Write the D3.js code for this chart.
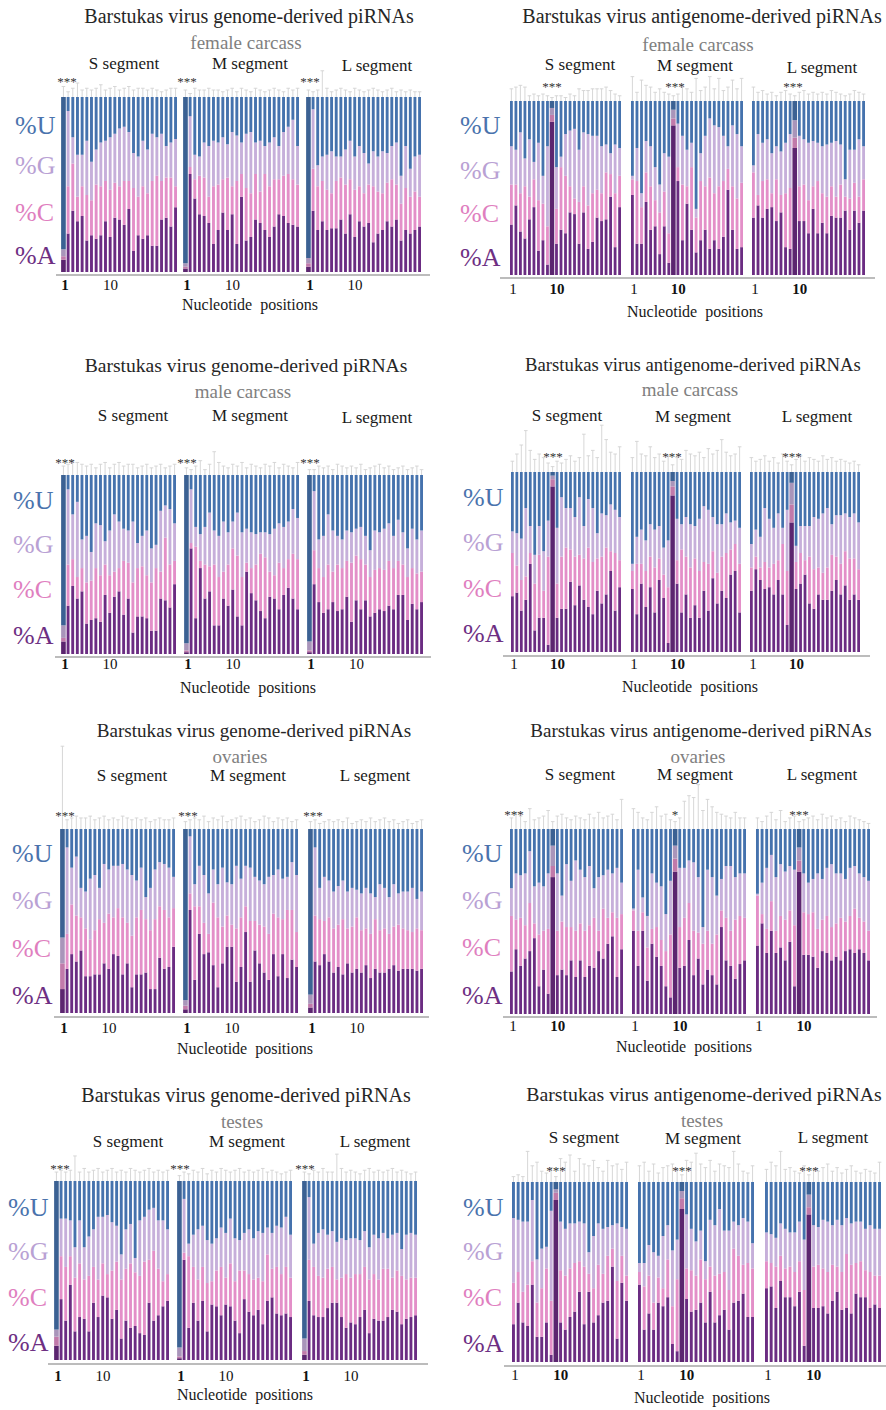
<!DOCTYPE html>
<html>
<head>
<meta charset="utf-8">
<script src="https://cdn.jsdelivr.net/npm/d3@7"></script>
<style>
  body { margin: 0; background: #fff; }
  svg text { font-family: "Liberation Serif", "Times New Roman", serif; }
</style>
</head>
<body>
<svg width="886" height="1410"></svg>
<script>
// nucleotide positions 1..25, three segments per panel
const positions = d3.range(1, 26);
const bases = ["A", "C", "G", "U"];
const segmentNames = ["S segment", "M segment", "L segment"];

// % per base, [S, M, L]; U is the remainder to 100
const genomeFemaleA = [
  [7,22,35,29,32,18,21,19,21,29,20,31,30,27,36,12,21,19,21,15,15,30,31,26,37],
  [2,56,42,33,32,28,16,24,34,24,33,16,43,18,20,30,28,24,20,26,33,32,28,27,26],
  [3,35,24,29,24,25,25,30,22,33,20,29,26,28,17,22,24,29,26,30,18,24,22,24,26]];
const genomeFemaleC = [
  [2,27,27,14,17,26,20,31,28,23,27,20,19,25,16,36,22,30,24,37,40,22,23,28,12],
  [1,4,11,22,22,15,33,26,19,30,16,36,13,30,25,26,18,32,29,27,20,23,28,26,24],
  [2,24,25,23,23,20,27,24,28,20,27,20,19,22,32,24,21,22,27,20,21,24,21,22,17]];
const genomeFemaleG = [
  [4,43,15,24,18,31,22,20,25,23,30,28,33,31,28,20,23,26,25,27,22,27,18,20,27],
  [2,29,14,11,20,29,26,24,24,19,31,26,18,31,35,18,29,16,25,24,19,25,27,34,22],
  [3,34,12,14,20,24,14,12,20,22,19,23,23,12,20,20,24,17,19,24,16,24,16,20,24]];
const genomeFemaleErr = [
  [6,3,5,8,4,5,4,5,7,4,5,6,4,5,6,4,5,5,4,5,4,3,4,5,5],
  [4,2,5,4,4,5,4,4,3,4,5,3,5,4,3,5,4,3,4,5,4,3,5,4,5],
  [4,3,4,15,5,3,4,5,4,3,5,4,3,4,5,4,3,4,5,3,4,3,4,3,3]];

const genomeMaleA = [
  [7,27,38,31,35,17,19,20,18,33,23,32,35,22,31,12,21,21,20,13,13,31,30,26,39],
  [1,59,20,48,31,35,16,16,31,27,36,21,16,46,34,30,24,20,32,31,25,33,37,31,25],
  [1,39,29,23,25,29,24,25,32,18,30,25,30,21,23,25,24,27,25,33,33,19,28,25,29]];
const genomeMaleC = [
  [2,23,15,12,13,23,22,28,26,17,21,14,13,30,20,28,27,28,24,27,35,15,35,24,13],
  [1,3,40,4,19,14,34,27,15,23,23,34,27,5,14,20,32,34,14,13,26,15,16,25,28],
  [1,19,19,20,25,17,26,23,20,33,25,28,20,22,24,23,23,25,23,19,17,24,20,20,17]];
const genomeMaleG = [
  [7,42,25,42,16,26,16,25,28,13,25,32,26,18,18,34,14,17,25,19,13,34,18,31,21],
  [4,30,11,15,21,30,19,23,28,18,15,24,25,19,20,17,12,14,21,26,22,23,21,25,23],
  [5,33,16,23,28,23,16,16,17,17,15,18,16,15,22,20,23,21,18,23,18,16,22,19,23]];
const genomeMaleErr = [
  [5,6,8,7,6,5,6,4,6,7,4,6,7,5,6,6,4,5,6,4,5,6,4,5,6],
  [4,3,5,8,3,6,13,7,5,4,6,5,7,4,6,5,4,6,5,7,4,6,5,4,7],
  [3,3,5,4,5,3,6,5,4,5,4,6,3,4,5,6,4,5,3,4,5,3,4,5,3]];

const genomeOvariesA = [
  [13,24,32,28,34,20,20,21,21,27,24,32,31,21,27,14,21,21,22,13,13,30,24,25,36],
  [2,56,18,43,32,33,26,14,27,36,36,17,25,44,17,34,27,22,18,32,20,32,19,29,25],
  [3,28,26,32,28,22,25,21,27,22,24,22,26,19,24,22,22,24,26,23,24,24,24,23,24]];
const genomeOvariesC = [
  [14,19,27,25,18,26,20,24,30,22,30,20,26,31,22,28,31,35,29,32,38,28,32,27,21],
  [2,9,40,15,17,10,34,38,20,17,12,29,27,14,33,16,21,25,25,22,32,19,37,27,19],
  [2,25,25,18,24,24,23,30,19,25,28,23,20,24,27,23,24,19,21,25,22,21,20,23,21]];
const genomeOvariesG = [
  [14,47,20,32,16,20,33,30,17,32,24,28,23,29,29,33,20,23,12,23,27,24,25,27,17],
  [3,31,12,22,26,22,18,18,32,18,22,34,21,22,29,24,24,23,31,21,26,22,18,26,31],
  [5,37,17,24,20,20,21,21,20,21,15,20,22,22,12,25,22,20,23,17,20,21,24,16,21]];
const genomeOvariesErr = [
  [45,5,6,7,6,6,7,5,6,7,5,6,5,7,6,5,6,5,6,4,5,6,5,5,6],
  [4,5,6,5,7,4,6,5,7,4,5,6,7,5,6,4,5,7,6,4,6,5,6,4,5],
  [4,5,3,4,5,4,5,4,6,3,4,5,4,6,4,5,6,4,5,3,4,5,3,4,5]];

const genomeTestesA = [
  [8,34,22,42,16,24,23,16,32,24,36,35,23,28,12,22,18,19,15,14,32,22,25,30,33],
  [1,56,18,32,22,33,16,31,30,25,31,30,22,15,34,27,25,28,20,33,35,26,25,26,24],
  [3,33,25,24,24,29,32,32,24,18,21,20,24,28,15,23,22,22,24,28,27,20,23,24,25]];
const genomeTestesC = [
  [5,24,30,16,30,30,22,31,20,21,18,13,27,27,33,29,36,30,32,41,24,39,26,14,15],
  [1,4,40,20,23,19,27,13,20,27,15,24,22,35,16,21,20,18,24,26,16,26,23,26,22],
  [2,23,27,23,22,22,20,13,22,30,25,28,24,24,30,25,23,29,27,18,23,27,22,22,21]];
const genomeTestesG = [
  [4,21,27,20,17,24,18,22,21,35,26,33,27,20,14,22,22,8,31,25,28,24,27,34,25],
  [5,30,7,18,28,23,24,21,18,22,25,25,24,17,21,25,23,26,27,15,20,23,26,28,24],
  [7,35,13,24,27,19,20,21,22,19,22,20,19,20,18,22,23,20,17,24,21,15,25,25,24]];
const genomeTestesErr = [
  [5,6,5,6,14,5,7,5,6,7,5,6,7,5,6,5,7,6,5,6,7,5,6,5,6],
  [3,5,4,6,5,7,4,6,5,7,6,5,6,7,5,6,5,6,7,5,6,5,4,5,6],
  [5,4,6,5,7,5,5,15,7,5,6,5,4,6,7,5,6,5,6,7,5,6,5,4,5]];

const antigenomeFemaleA = [
  [29,40,25,21,32,39,14,20,6,88,18,26,24,36,35,18,36,15,19,33,31,32,45,16,39],
  [46,18,18,42,26,28,12,28,7,86,54,20,41,26,13,20,26,15,20,15,22,49,26,15,16],
  [33,40,33,38,39,31,36,16,15,73,31,31,24,38,24,30,24,34,33,33,37,26,37,30,37]];
const antigenomeFemaleC = [
  [23,12,22,30,13,16,29,21,22,4,20,36,33,15,9,24,15,25,28,16,16,27,13,31,18],
  [9,36,21,17,25,15,24,20,17,4,8,32,10,36,20,34,25,41,27,36,32,12,25,29,37],
  [26,6,21,17,8,24,10,31,35,6,20,21,19,13,30,17,21,17,12,19,8,18,16,15,18]];
const antigenomeFemaleG = [
  [22,20,35,16,33,10,33,16,46,4,24,6,24,32,40,30,31,41,33,31,27,16,12,28,16],
  [2,19,8,18,23,19,16,22,44,5,25,28,21,14,5,16,29,34,39,34,26,13,35,37,21],
  [4,35,22,23,23,19,25,29,31,10,29,26,33,26,22,27,30,25,32,23,10,28,19,33,19]];
const antigenomeFemaleErr = [
  [7,8,9,8,3,4,3,4,3,2,3,3,2,4,3,7,6,6,7,7,7,8,6,4,3],
  [14,5,12,9,8,5,7,5,4,3,4,8,7,5,13,6,8,14,7,13,6,8,12,7,13],
  [8,5,6,4,5,3,5,6,4,3,5,6,4,5,4,5,4,6,5,4,3,4,6,5,4]];

const antigenomeMaleA = [
  [31,33,23,29,49,12,19,19,4,92,19,24,24,39,26,37,29,25,21,34,27,32,45,23,36],
  [35,21,38,25,36,22,40,30,5,87,38,22,32,19,26,19,34,23,41,27,34,30,43,45,22],
  [34,46,40,35,36,32,40,32,15,72,35,38,43,27,24,32,29,29,34,40,32,37,29,32,29]];
const antigenomeMaleC = [
  [24,15,17,13,6,26,35,15,49,4,19,29,34,18,27,17,23,33,29,18,26,26,11,32,15],
  [10,28,11,20,17,25,12,13,31,5,13,35,21,28,26,26,16,26,15,17,19,25,14,15,27],
  [13,7,7,15,11,17,11,28,30,10,15,17,8,26,22,15,15,18,20,13,17,19,23,20,17]];
const antigenomeMaleG = [
  [12,18,23,38,15,16,16,22,20,2,31,33,22,23,22,32,18,27,30,14,24,18,26,24,24],
  [4,15,19,17,18,21,18,15,26,3,23,14,22,24,18,29,31,30,19,27,18,22,15,13,20],
  [13,15,17,30,27,20,26,9,34,12,9,15,19,17,29,27,33,33,17,23,27,21,23,25,26]];
const antigenomeMaleErr = [
  [6,10,15,23,12,7,10,8,5,3,6,5,7,9,6,8,21,9,12,8,26,18,11,10,14],
  [8,17,10,9,14,8,10,6,9,4,8,7,12,10,9,11,8,13,10,12,18,11,9,10,14],
  [8,6,7,9,6,8,5,10,6,4,7,9,6,8,7,6,9,7,8,6,7,6,5,6,4]];

const antigenomeOvariesA = [
  [23,35,26,30,34,41,15,24,11,74,21,24,21,29,20,29,20,26,25,34,30,38,42,20,35],
  [45,26,45,18,38,31,26,15,9,77,25,26,40,21,30,16,24,21,16,47,29,26,19,27,29],
  [37,49,33,45,33,36,29,39,15,77,32,32,31,25,34,33,29,31,29,34,35,33,35,33,29]];
const antigenomeOvariesC = [
  [30,16,26,18,26,8,28,21,35,6,24,26,26,18,25,20,25,22,27,11,27,14,13,32,19],
  [11,19,10,18,8,16,14,19,34,7,22,26,20,24,14,22,21,17,27,9,23,19,32,26,23],
  [27,5,13,16,12,17,22,17,33,6,23,22,24,21,17,20,18,18,23,16,18,24,17,17,16]];
const antigenomeOvariesG = [
  [15,25,23,28,28,20,28,24,30,11,31,14,34,25,38,29,29,32,16,29,18,26,21,27,17],
  [1,33,8,17,30,24,29,20,29,7,32,27,23,37,30,9,33,36,21,17,28,35,23,23,24],
  [1,17,33,25,29,28,26,24,30,7,21,17,18,30,22,26,34,27,24,23,26,23,24,24,27]];
const antigenomeOvariesErr = [
  [6,9,7,4,11,5,6,7,10,4,7,8,6,5,7,6,5,8,6,9,6,7,8,5,16],
  [11,9,6,5,9,12,7,8,5,4,6,15,18,17,24,10,16,12,9,8,7,6,9,6,6],
  [6,4,7,9,5,10,4,6,7,4,5,6,7,5,8,6,7,5,6,4,7,6,5,4,3]];

const antigenomeTestesA = [
  [21,33,22,20,43,14,14,22,4,90,22,18,25,28,39,21,39,22,26,33,34,53,13,44,34],
  [43,18,27,18,33,31,36,10,6,85,35,28,29,33,22,39,22,26,29,18,33,34,38,25,25],
  [41,42,30,45,36,36,31,39,9,82,30,30,31,27,34,39,29,30,27,38,36,36,30,32,30]];
const antigenomeTestesC = [
  [23,17,17,23,13,19,27,30,30,4,29,30,27,27,17,32,10,19,28,16,25,10,32,15,14],
  [7,24,21,15,14,10,21,21,40,6,17,23,19,24,24,14,26,23,21,22,30,25,16,30,27],
  [15,13,23,14,16,17,19,17,31,4,23,24,21,23,20,14,21,30,27,17,20,15,20,16,18]];
const antigenomeTestesG = [
  [36,29,39,35,34,24,22,12,50,2,27,26,25,22,22,24,12,29,23,25,16,13,32,16,26],
  [5,13,17,28,12,29,19,31,22,4,30,23,19,16,10,26,28,36,23,33,15,17,26,23,14],
  [16,16,16,18,22,19,22,22,28,7,23,21,27,28,22,26,26,20,23,23,22,23,26,26,26]];
const antigenomeTestesErr = [
  [3,4,3,17,9,11,6,5,8,3,13,11,15,6,13,10,9,12,8,6,12,9,10,7,11],
  [9,11,6,10,5,8,9,10,7,4,12,11,16,10,8,12,6,10,9,8,17,10,6,5,9],
  [7,11,9,17,7,8,6,5,9,4,7,6,8,10,6,8,5,7,9,6,5,7,6,5,11]];

const baseColor = { A: "#6b2c82", C: "#e38fc8", G: "#c6afda", U: "#4572ad" };
const labelColor = { U: "#4a73ad", G: "#b9a1d4", C: "#e07fbf", A: "#6e2f83" };

const genomeTitle = "Barstukas virus genome-derived piRNAs";
const antiTitle = "Barstukas virus antigenome-derived piRNAs";

// layout of the eight panels (left column: genome, right column: antigenome)
const panels = [
  { a: genomeFemaleA, c: genomeFemaleC, g: genomeFemaleG, err: genomeFemaleErr,
    title: genomeTitle, titleSize: 20, sub: "female carcass", titlePos: [249, 23], subPos: [246, 49],
    segs: [[62, 177], [184, 299], [307, 421]], segLabels: [[124, 69], [250, 69], [377, 71]],
    top: 97, bottom: 272, axisY: 275, axisX: [56, 430], tickY: 290, xlab: [250, 310],
    ylabX: 15, ylabY: [134, 174, 221, 264], hl: 1, boldFirst: true,
    stars: [[67, 86, "***"], [187, 86, "***"], [310, 86, "***"]] },
  { a: genomeMaleA, c: genomeMaleC, g: genomeMaleG, err: genomeMaleErr,
    title: genomeTitle, titleSize: 19.6, sub: "male carcass", titlePos: [246, 372], subPos: [243, 398],
    segs: [[62, 176], [185, 299], [308, 423]], segLabels: [[133, 421], [250, 421], [377, 423]],
    top: 475, bottom: 654, axisY: 657, axisX: [55, 431], tickY: 669, xlab: [248, 693],
    ylabX: 13, ylabY: [509, 553, 598, 644], hl: 1, boldFirst: true,
    stars: [[65, 467, "***"], [187, 467, "***"], [310, 467, "***"]] },
  { a: genomeOvariesA, c: genomeOvariesC, g: genomeOvariesG, err: genomeOvariesErr,
    title: genomeTitle, titleSize: 19.1, sub: "ovaries", titlePos: [254, 737], subPos: [240, 763],
    segs: [[61, 175], [184, 298], [309, 423]], segLabels: [[132, 781], [248, 781], [375, 781]],
    top: 829, bottom: 1013, axisY: 1017, axisX: [54, 429], tickY: 1033, xlab: [245, 1054],
    ylabX: 12, ylabY: [862, 909, 957, 1004], hl: 1, boldFirst: true,
    stars: [[65, 820, "***"], [188, 820, "***"], [313, 820, "***"]] },
  { a: genomeTestesA, c: genomeTestesC, g: genomeTestesG, err: genomeTestesErr,
    title: genomeTitle, titleSize: 20, sub: "testes", titlePos: [246, 1102], subPos: [242, 1128],
    segs: [[55, 169], [178, 292], [303, 417]], segLabels: [[128, 1147], [247, 1147], [375, 1147]],
    top: 1181, bottom: 1360, axisY: 1364, axisX: [48, 428], tickY: 1381, xlab: [245, 1400],
    ylabX: 8, ylabY: [1216, 1260, 1306, 1351], hl: 1, boldFirst: true,
    stars: [[60, 1173, "***"], [180, 1173, "***"], [305, 1173, "***"]] },
  { a: antigenomeFemaleA, c: antigenomeFemaleC, g: antigenomeFemaleG, err: antigenomeFemaleErr,
    title: antiTitle, titleSize: 20, sub: "female carcass", titlePos: [702, 23], subPos: [698, 51],
    segs: [[510, 621], [631, 743], [752, 865]], segLabels: [[580, 70], [695, 71], [822, 73]],
    top: 101, bottom: 275, axisY: 278, axisX: [500, 875], tickY: 294, xlab: [695, 317],
    ylabX: 460, ylabY: [134, 179, 222, 266], hl: 10, boldFirst: false,
    stars: [[552, 91, "***"], [675, 91, "***"], [793, 91, "***"]] },
  { a: antigenomeMaleA, c: antigenomeMaleC, g: antigenomeMaleG, err: antigenomeMaleErr,
    title: antiTitle, titleSize: 18.7, sub: "male carcass", titlePos: [693, 371], subPos: [690, 396],
    segs: [[511, 621], [631, 741], [750, 860]], segLabels: [[567, 421], [693, 422], [817, 422]],
    top: 472, bottom: 652, axisY: 656, axisX: [503, 870], tickY: 669, xlab: [690, 692],
    ylabX: 463, ylabY: [506, 551, 597, 642], hl: 10, boldFirst: false,
    stars: [[553, 461, "***"], [672, 461, "***"], [792, 461, "***"]] },
  { a: antigenomeOvariesA, c: antigenomeOvariesC, g: antigenomeOvariesG, err: antigenomeOvariesErr,
    title: antiTitle, titleSize: 19, sub: "ovaries", titlePos: [701, 737], subPos: [698, 763],
    segs: [[510, 623], [632, 746], [756, 870]], segLabels: [[580, 780], [695, 780], [822, 780]],
    top: 829, bottom: 1014, axisY: 1017, axisX: [503, 877], tickY: 1031, xlab: [684, 1052],
    ylabX: 462, ylabY: [862, 909, 956, 1004], hl: 10, boldFirst: false,
    stars: [[514, 819, "***"], [675, 819, "*"], [799, 819, "***"]] },
  { a: antigenomeTestesA, c: antigenomeTestesC, g: antigenomeTestesG, err: antigenomeTestesErr,
    title: antiTitle, titleSize: 19.8, sub: "testes", titlePos: [704, 1101], subPos: [702, 1127],
    segs: [[512, 628], [638, 754], [765, 881]], segLabels: [[584, 1143], [703, 1144], [833, 1143]],
    top: 1182, bottom: 1362, axisY: 1366, axisX: [504, 886], tickY: 1380, xlab: [702, 1403],
    ylabX: 463, ylabY: [1216, 1260, 1306, 1352], hl: 10, boldFirst: false,
    stars: [[556, 1175, "***"], [682, 1175, "***"], [809, 1175, "***"]] }
];

const svg = d3.select("svg");

function drawPanel(p) {
  const g = svg.append("g");
  const y = d3.scaleLinear().domain([0, 100]).range([p.bottom, p.top]);

  p.segs.forEach((range, si) => {
    const x = d3.scaleBand().domain(positions).range(range).paddingInner(0.38);
    const rows = positions.map((pos, i) => {
      const A = p.a[si][i], C = p.c[si][i], G = p.g[si][i];
      return { pos, A, C, G, U: 100 - A - C - G, err: p.err[si][i] };
    });
    const series = d3.stack().keys(bases)(rows);
    const extra = (x.step() - x.bandwidth()) / 2;
    const seg = g.append("g");

    // error whiskers on top of each stack
    seg.selectAll(".whisker")
      .data(rows)
      .join("path")
      .attr("class", "whisker")
      .attr("fill", "none")
      .attr("stroke", "#d2d2d2")
      .attr("stroke-width", 0.9)
      .attr("d", d => {
        const cx = x(d.pos) + x.bandwidth() / 2;
        const yt = y(100 + d.err);
        return `M${cx},${y(100)}V${yt}M${cx - 1.8},${yt}H${cx + 1.8}`;
      });

    seg.selectAll(".layer")
      .data(series)
      .join("g")
      .attr("class", "layer")
      .each(function(s) {
        d3.select(this).selectAll("rect")
          .data(s)
          .join("rect")
          .attr("x", d => d.data.pos === p.hl ? x(d.data.pos) - extra : x(d.data.pos))
          .attr("width", d => d.data.pos === p.hl ? x.step() : x.bandwidth())
          .attr("y", d => y(d[1]))
          .attr("height", d => Math.max(0, y(d[0]) - y(d[1])))
          .attr("fill", d => d.data.pos === p.hl
            ? d3.color(baseColor[s.key]).darker(0.45).formatHex()
            : baseColor[s.key]);
      });

    // tick labels 1 and 10
    seg.append("text")
      .attr("x", x(1) + x.bandwidth() / 2 + 1.5)
      .attr("y", p.tickY)
      .attr("text-anchor", "middle")
      .attr("font-size", 15)
      .attr("font-weight", p.boldFirst ? "bold" : "normal")
      .attr("fill", "#111")
      .text("1");
    seg.append("text")
      .attr("x", x(10) + x.bandwidth() / 2 + 5)
      .attr("y", p.tickY)
      .attr("text-anchor", "middle")
      .attr("font-size", 15)
      .attr("font-weight", p.boldFirst ? "normal" : "bold")
      .attr("fill", "#111")
      .text("10");

    g.append("text")
      .attr("x", p.segLabels[si][0])
      .attr("y", p.segLabels[si][1])
      .attr("text-anchor", "middle")
      .attr("font-size", 17)
      .attr("fill", "#1a1a1a")
      .text(segmentNames[si]);
  });

  g.append("line")
    .attr("x1", p.axisX[0]).attr("x2", p.axisX[1])
    .attr("y1", p.axisY).attr("y2", p.axisY)
    .attr("stroke", "#a6a6a6")
    .attr("stroke-width", 1.5);

  g.append("text")
    .attr("x", p.titlePos[0]).attr("y", p.titlePos[1])
    .attr("text-anchor", "middle")
    .attr("font-size", p.titleSize)
    .attr("fill", "#262626")
    .text(p.title);

  g.append("text")
    .attr("x", p.subPos[0]).attr("y", p.subPos[1])
    .attr("text-anchor", "middle")
    .attr("font-size", 19)
    .attr("fill", "#808080")
    .text(p.sub);

  g.append("text")
    .attr("x", p.xlab[0]).attr("y", p.xlab[1])
    .attr("text-anchor", "middle")
    .attr("font-size", 16)
    .attr("fill", "#1a1a1a")
    .style("white-space", "pre")
    .text("Nucleotide  positions");

  ["U", "G", "C", "A"].forEach((b, i) => {
    g.append("text")
      .attr("x", p.ylabX).attr("y", p.ylabY[i])
      .attr("font-size", 26)
      .attr("fill", labelColor[b])
      .text("%" + b);
  });

  p.stars.forEach(s => {
    g.append("text")
      .attr("x", s[0]).attr("y", s[1])
      .attr("text-anchor", "middle")
      .attr("font-size", 13)
      .attr("fill", "#333")
      .text(s[2]);
  });
}

panels.forEach(drawPanel);
</script>
</body>
</html>
